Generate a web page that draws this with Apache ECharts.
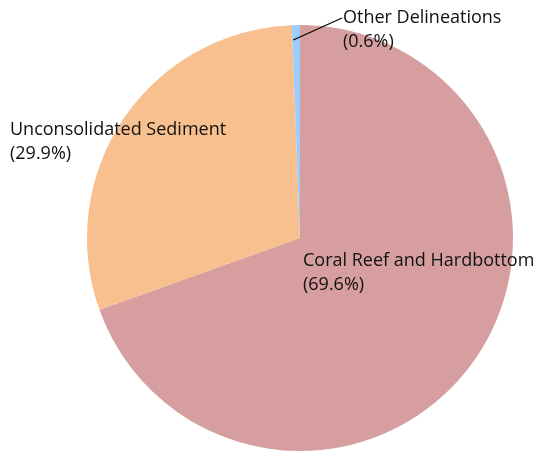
<!DOCTYPE html>
<html>
<head>
<meta charset="utf-8">
<script src="https://cdn.jsdelivr.net/npm/echarts@6/dist/echarts.min.js"></script>
<style>
  html, body { margin: 0; padding: 0; background: #fff; }
  #chart { width: 539px; height: 451px; }
</style>
</head>
<body>
<div id="chart"></div>
<script>
var categories = ['Coral Reef and Hardbottom', 'Unconsolidated Sediment', 'Other Delineations'];
var values = [69.6, 29.9, 0.6];
var colors = ['#d69e9e', '#f9c08f', '#99ccff'];
// where each label block sits (left edge, vertical middle)
var labelSpots = [[303, 273], [10, 142], [343, 30]];

var cx = 300, cy = 238, R = 213;

var chart = echarts.init(document.getElementById('chart'));

var total = values.reduce(function (a, b) { return a + b; }, 0);

// mid angle of a slice (radians, clockwise from 12 o'clock)
function midAngle(idx) {
    var before = 0;
    for (var k = 0; k < idx; k++) before += values[k];
    return (before + values[idx] / 2) / total * Math.PI * 2;
}

var pieData = categories.map(function (name, i) {
    return {
        name: name,
        value: values[i],
        itemStyle: { color: colors[i] },
        label: { position: i === 0 ? 'inside' : 'outside' },
        labelLine: { show: false }
    };
});

// leader line for the thin "Other" slice, from inside the slice to its label
var otherA = midAngle(2);
var lineStart = [cx + Math.sin(otherA) * (R - 15) - 3, cy - Math.cos(otherA) * (R - 15)];
var lineEnd = [labelSpots[2][0] - 1, labelSpots[2][1] - 12];

chart.setOption({
    animation: false,
    graphic: [{
        type: 'line',
        z: 100,
        shape: { x1: lineStart[0], y1: lineStart[1], x2: lineEnd[0], y2: lineEnd[1] },
        style: { stroke: '#000', lineWidth: 1.2 }
    }],
    series: [{
        type: 'pie',
        center: [cx, cy],
        radius: R,
        startAngle: 90,
        clockwise: true,
        data: pieData,
        label: {
            formatter: '{b}\n({c}%)',
            fontFamily: 'Open Sans',
            fontSize: 18,
            lineHeight: 24,
            color: '#111',
            overflow: 'none'
        },
        labelLayout: function (params) {
            var spot = labelSpots[params.dataIndex];
            return {
                x: spot[0],
                y: spot[1],
                align: 'left',
                verticalAlign: 'middle'
            };
        }
    }]
});
</script>
</body>
</html>
